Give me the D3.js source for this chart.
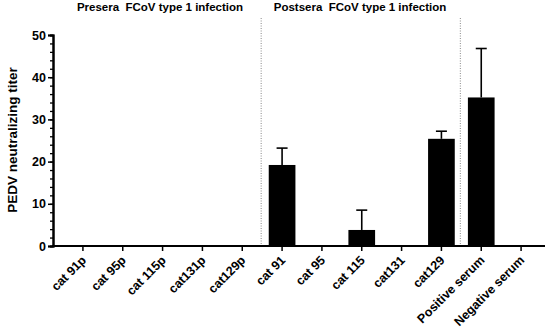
<!DOCTYPE html>
<html><head><meta charset="utf-8">
<script src="https://cdn.jsdelivr.net/npm/d3@7"></script>
<style>body{margin:0;background:#fff}svg{display:block;font-family:"Liberation Sans",Arial,sans-serif}text{white-space:pre}</style>
</head><body>
<svg id="c" width="550" height="328"></svg>
<script>
const categories = ["cat 91p","cat 95p","cat 115p","cat131p","cat129p","cat 91","cat 95","cat 115","cat131","cat129","Positive serum","Negative serum"];
const means = [0,0,0,0,0,19.2,0,3.8,0,25.4,35.2,0];
const errors = [0,0,0,0,0,4.0,0,4.7,0,1.8,11.6,0];
const yTicks = [0,10,20,30,40,50];
const groupTitles = ["Presera  FCoV type 1 infection","Postsera  FCoV type 1 infection"];
const dividers = [[4,5],[9,10]];

const svg = d3.select("#c");
const x = d3.scaleBand().domain(categories).range([63,541]).paddingInner(0.33).paddingOuter(0.165);
const y = d3.scaleLinear().domain([0,50]).range([246,35]);
const axisLeftX = 53;

dividers.forEach(([a,b])=>{
  const xm = (x(categories[a])+x.bandwidth()/2 + x(categories[b])+x.bandwidth()/2)/2 - 1;
  svg.append("line").attr("x1",xm).attr("x2",xm).attr("y1",18).attr("y2",y(0))
    .attr("stroke","#888").attr("stroke-width",1).attr("stroke-dasharray","1,1.5");
});

svg.selectAll("rect.bar").data(categories).join("rect")
  .attr("x",d=>x(d)).attr("width",x.bandwidth())
  .attr("y",(d,i)=>y(means[i])).attr("height",(d,i)=>y(0)-y(means[i]))
  .attr("fill","#000");

categories.forEach((d,i)=>{
  if(!errors[i]) return;
  const cx = x(d)+x.bandwidth()/2;
  svg.append("line").attr("x1",cx).attr("x2",cx).attr("y1",y(means[i])).attr("y2",y(means[i]+errors[i])).attr("stroke","#000").attr("stroke-width",1.6);
  svg.append("line").attr("x1",cx-5.5).attr("x2",cx+5.5).attr("y1",y(means[i]+errors[i])).attr("y2",y(means[i]+errors[i])).attr("stroke","#000").attr("stroke-width",1.6);
});

const gy = svg.append("g").attr("transform",`translate(${axisLeftX},0)`);
gy.call(d3.axisLeft(y).tickValues(d3.range(0,51,2)).tickSize(3).tickFormat(""));
gy.call(g=>g.selectAll(".tick line").attr("stroke-width",1.3));
const gy2 = svg.append("g").attr("transform",`translate(${axisLeftX},0)`);
gy2.call(d3.axisLeft(y).tickValues(yTicks).tickSize(5).tickPadding(2));
gy2.selectAll(".tick line").attr("stroke-width",1.5);
gy2.selectAll("text").attr("font-size",12.5).attr("font-weight","bold").attr("fill","#000").attr("font-family","Liberation Sans, Arial, sans-serif");
svg.selectAll(".domain").attr("stroke-width",2);

const gx = svg.append("g").attr("transform",`translate(0,${y(0)})`);
gx.call(d3.axisBottom(x).tickSize(5).tickSizeOuter(0));
gx.select(".domain").remove();
gx.append("line").attr("x1",axisLeftX-1).attr("x2",545).attr("stroke","#000").attr("stroke-width",2);
gx.selectAll(".tick line").attr("stroke-width",1.5);
gx.selectAll(".tick text").attr("font-size",12.5).attr("font-weight","bold").attr("fill","#000")
  .attr("font-family","Liberation Sans, Arial, sans-serif")
  .attr("text-anchor","end").attr("dy",null).attr("y",0)
  .attr("transform","translate(4,15) rotate(-45)");

svg.append("text").attr("transform","translate(17,140) rotate(-90)").attr("text-anchor","middle")
  .attr("font-size",13.5).attr("font-weight","bold").text("PEDV neutralizing titer");

svg.append("text").attr("x",160).attr("y",11).attr("text-anchor","middle").attr("font-size",11.5).attr("font-weight","bold").text(groupTitles[0]);
svg.append("text").attr("x",360).attr("y",11).attr("text-anchor","middle").attr("font-size",11.5).attr("font-weight","bold").text(groupTitles[1]);
</script>
</body></html>
